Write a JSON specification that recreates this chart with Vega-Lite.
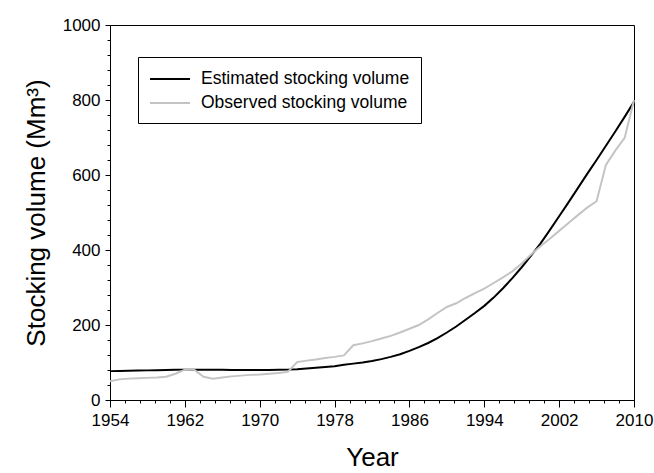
{
  "$schema": "https://vega.github.io/schema/vega-lite/v6.json",
  "autosize": "none",
  "width": 524,
  "height": 375,
  "padding": {"left": 110, "top": 25, "right": 20, "bottom": 73},
  "background": "white",
  "config": {
    "view": {"stroke": "black", "strokeWidth": 1},
    "font": "Liberation Sans",
    "axis": {"grid": false, "domainColor": "black", "tickColor": "black", "labelColor": "black", "titleColor": "black", "labelFont": "Liberation Sans", "titleFont": "Liberation Sans", "titleFontWeight": "normal", "labelFlush": false, "labelOverlap": false}
  },
  "data": {"values": [
    {"year": 1954, "value": 77, "series": "Estimated stocking volume"},
    {"year": 1955, "value": 77.5, "series": "Estimated stocking volume"},
    {"year": 1956, "value": 78, "series": "Estimated stocking volume"},
    {"year": 1957, "value": 78.5, "series": "Estimated stocking volume"},
    {"year": 1958, "value": 79, "series": "Estimated stocking volume"},
    {"year": 1959, "value": 79.5, "series": "Estimated stocking volume"},
    {"year": 1960, "value": 80, "series": "Estimated stocking volume"},
    {"year": 1961, "value": 80.5, "series": "Estimated stocking volume"},
    {"year": 1962, "value": 81, "series": "Estimated stocking volume"},
    {"year": 1963, "value": 81, "series": "Estimated stocking volume"},
    {"year": 1964, "value": 81, "series": "Estimated stocking volume"},
    {"year": 1965, "value": 81, "series": "Estimated stocking volume"},
    {"year": 1966, "value": 80.5, "series": "Estimated stocking volume"},
    {"year": 1967, "value": 80, "series": "Estimated stocking volume"},
    {"year": 1968, "value": 80, "series": "Estimated stocking volume"},
    {"year": 1969, "value": 80, "series": "Estimated stocking volume"},
    {"year": 1970, "value": 80, "series": "Estimated stocking volume"},
    {"year": 1971, "value": 80, "series": "Estimated stocking volume"},
    {"year": 1972, "value": 80.5, "series": "Estimated stocking volume"},
    {"year": 1973, "value": 81, "series": "Estimated stocking volume"},
    {"year": 1974, "value": 82, "series": "Estimated stocking volume"},
    {"year": 1975, "value": 84, "series": "Estimated stocking volume"},
    {"year": 1976, "value": 86, "series": "Estimated stocking volume"},
    {"year": 1977, "value": 88, "series": "Estimated stocking volume"},
    {"year": 1978, "value": 90, "series": "Estimated stocking volume"},
    {"year": 1979, "value": 94, "series": "Estimated stocking volume"},
    {"year": 1980, "value": 97, "series": "Estimated stocking volume"},
    {"year": 1981, "value": 100, "series": "Estimated stocking volume"},
    {"year": 1982, "value": 104, "series": "Estimated stocking volume"},
    {"year": 1983, "value": 109, "series": "Estimated stocking volume"},
    {"year": 1984, "value": 115, "series": "Estimated stocking volume"},
    {"year": 1985, "value": 122, "series": "Estimated stocking volume"},
    {"year": 1986, "value": 131, "series": "Estimated stocking volume"},
    {"year": 1987, "value": 141, "series": "Estimated stocking volume"},
    {"year": 1988, "value": 152, "series": "Estimated stocking volume"},
    {"year": 1989, "value": 165, "series": "Estimated stocking volume"},
    {"year": 1990, "value": 180, "series": "Estimated stocking volume"},
    {"year": 1991, "value": 196, "series": "Estimated stocking volume"},
    {"year": 1992, "value": 214, "series": "Estimated stocking volume"},
    {"year": 1993, "value": 232, "series": "Estimated stocking volume"},
    {"year": 1994, "value": 251, "series": "Estimated stocking volume"},
    {"year": 1995, "value": 273, "series": "Estimated stocking volume"},
    {"year": 1996, "value": 298, "series": "Estimated stocking volume"},
    {"year": 1997, "value": 325, "series": "Estimated stocking volume"},
    {"year": 1998, "value": 354, "series": "Estimated stocking volume"},
    {"year": 1999, "value": 385, "series": "Estimated stocking volume"},
    {"year": 2000, "value": 417, "series": "Estimated stocking volume"},
    {"year": 2001, "value": 453, "series": "Estimated stocking volume"},
    {"year": 2002, "value": 490, "series": "Estimated stocking volume"},
    {"year": 2003, "value": 527, "series": "Estimated stocking volume"},
    {"year": 2004, "value": 565, "series": "Estimated stocking volume"},
    {"year": 2005, "value": 603, "series": "Estimated stocking volume"},
    {"year": 2006, "value": 640, "series": "Estimated stocking volume"},
    {"year": 2007, "value": 678, "series": "Estimated stocking volume"},
    {"year": 2008, "value": 716, "series": "Estimated stocking volume"},
    {"year": 2009, "value": 755, "series": "Estimated stocking volume"},
    {"year": 2010, "value": 795, "series": "Estimated stocking volume"},
    {"year": 1954, "value": 50, "series": "Observed stocking volume"},
    {"year": 1955, "value": 55, "series": "Observed stocking volume"},
    {"year": 1956, "value": 57, "series": "Observed stocking volume"},
    {"year": 1957, "value": 58, "series": "Observed stocking volume"},
    {"year": 1958, "value": 59, "series": "Observed stocking volume"},
    {"year": 1959, "value": 60, "series": "Observed stocking volume"},
    {"year": 1960, "value": 62, "series": "Observed stocking volume"},
    {"year": 1961, "value": 70, "series": "Observed stocking volume"},
    {"year": 1962, "value": 81, "series": "Observed stocking volume"},
    {"year": 1963, "value": 81, "series": "Observed stocking volume"},
    {"year": 1964, "value": 62, "series": "Observed stocking volume"},
    {"year": 1965, "value": 57, "series": "Observed stocking volume"},
    {"year": 1966, "value": 60, "series": "Observed stocking volume"},
    {"year": 1967, "value": 63, "series": "Observed stocking volume"},
    {"year": 1968, "value": 65, "series": "Observed stocking volume"},
    {"year": 1969, "value": 67, "series": "Observed stocking volume"},
    {"year": 1970, "value": 68, "series": "Observed stocking volume"},
    {"year": 1971, "value": 70, "series": "Observed stocking volume"},
    {"year": 1972, "value": 72, "series": "Observed stocking volume"},
    {"year": 1973, "value": 75, "series": "Observed stocking volume"},
    {"year": 1974, "value": 101, "series": "Observed stocking volume"},
    {"year": 1975, "value": 105, "series": "Observed stocking volume"},
    {"year": 1976, "value": 108, "series": "Observed stocking volume"},
    {"year": 1977, "value": 112, "series": "Observed stocking volume"},
    {"year": 1978, "value": 115, "series": "Observed stocking volume"},
    {"year": 1979, "value": 119, "series": "Observed stocking volume"},
    {"year": 1980, "value": 146, "series": "Observed stocking volume"},
    {"year": 1981, "value": 151, "series": "Observed stocking volume"},
    {"year": 1982, "value": 157, "series": "Observed stocking volume"},
    {"year": 1983, "value": 164, "series": "Observed stocking volume"},
    {"year": 1984, "value": 171, "series": "Observed stocking volume"},
    {"year": 1985, "value": 180, "series": "Observed stocking volume"},
    {"year": 1986, "value": 190, "series": "Observed stocking volume"},
    {"year": 1987, "value": 200, "series": "Observed stocking volume"},
    {"year": 1988, "value": 215, "series": "Observed stocking volume"},
    {"year": 1989, "value": 232, "series": "Observed stocking volume"},
    {"year": 1990, "value": 248, "series": "Observed stocking volume"},
    {"year": 1991, "value": 258, "series": "Observed stocking volume"},
    {"year": 1992, "value": 272, "series": "Observed stocking volume"},
    {"year": 1993, "value": 285, "series": "Observed stocking volume"},
    {"year": 1994, "value": 297, "series": "Observed stocking volume"},
    {"year": 1995, "value": 312, "series": "Observed stocking volume"},
    {"year": 1996, "value": 327, "series": "Observed stocking volume"},
    {"year": 1997, "value": 343, "series": "Observed stocking volume"},
    {"year": 1998, "value": 364, "series": "Observed stocking volume"},
    {"year": 1999, "value": 388, "series": "Observed stocking volume"},
    {"year": 2000, "value": 410, "series": "Observed stocking volume"},
    {"year": 2001, "value": 430, "series": "Observed stocking volume"},
    {"year": 2002, "value": 451, "series": "Observed stocking volume"},
    {"year": 2003, "value": 472, "series": "Observed stocking volume"},
    {"year": 2004, "value": 493, "series": "Observed stocking volume"},
    {"year": 2005, "value": 513, "series": "Observed stocking volume"},
    {"year": 2006, "value": 530, "series": "Observed stocking volume"},
    {"year": 2007, "value": 627, "series": "Observed stocking volume"},
    {"year": 2008, "value": 665, "series": "Observed stocking volume"},
    {"year": 2009, "value": 699, "series": "Observed stocking volume"},
    {"year": 2010, "value": 800, "series": "Observed stocking volume"}
  ]},
  "layer": [
    {
      "mark": {"type": "line", "opacity": 0},
      "encoding": {
        "x": {"field": "year", "type": "quantitative", "scale": {"domain": [1954, 2010], "nice": false, "zero": false},
          "axis": {"values": [1955.6,1957.2,1958.8,1960.4,1963.6,1965.2,1966.8,1968.4,1971.6,1973.2,1974.8,1976.4,1979.6,1981.2,1982.8,1984.4,1987.6,1989.2,1990.8,1992.4,1995.6,1997.2,1998.8,2000.4,2003.6,2005.2,2006.8,2008.4], "labels": false, "title": null, "domain": false, "tickSize": 3, "orient": "bottom"}},
        "y": {"field": "value", "type": "quantitative", "scale": {"domain": [0, 1000], "nice": false},
          "axis": {"values": [40,80,120,160,240,280,320,360,440,480,520,560,640,680,720,760,840,880,920,960], "labels": false, "title": null, "domain": false, "tickSize": 3, "orient": "left"}}
      }
    },
    {
      "mark": {"type": "line", "strokeWidth": 2},
      "encoding": {
        "x": {"field": "year", "type": "quantitative",
          "axis": {"values": [1954,1962,1970,1978,1986,1994,2002,2010], "format": "d", "title": "Year", "tickSize": 7, "labelFontSize": 17, "labelPadding": 5, "titleFontSize": 26, "titlePadding": 16, "orient": "bottom"}},
        "y": {"field": "value", "type": "quantitative",
          "axis": {"values": [0,200,400,600,800,1000], "format": "d", "title": "Stocking volume (Mm³)", "tickSize": 5, "labelFontSize": 17, "labelPadding": 5, "titleFontSize": 26, "titlePadding": 13, "orient": "left"}},
        "color": {"field": "series", "type": "nominal", "title": null,
          "scale": {"domain": ["Estimated stocking volume", "Observed stocking volume"], "range": ["black", "#c4c4c4"]},
          "legend": {"orient": "none", "legendX": 28, "legendY": 32, "symbolType": "M-1,0H3", "symbolSize": 400, "symbolStrokeWidth": 2, "labelFontSize": 17.5, "labelFont": "Liberation Sans", "labelColor": "black", "labelLimit": 400, "strokeColor": "black", "fillColor": "white", "padding": 11, "rowPadding": 4, "labelOffset": 30, "cornerRadius": 0}}
      }
    }
  ],
  "resolve": {"axis": {"x": "independent", "y": "independent"}}
}
